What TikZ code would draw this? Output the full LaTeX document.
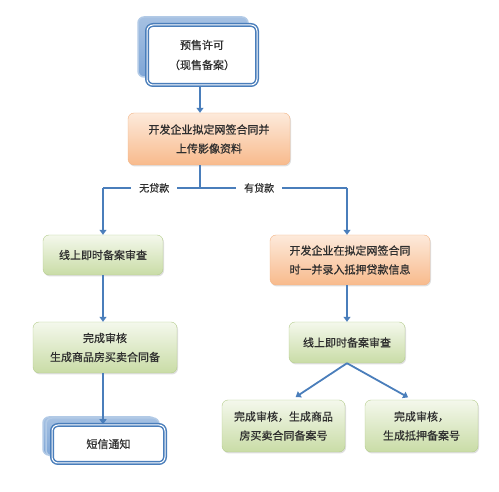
\documentclass[tikz,border=0pt]{standalone}
\usepackage{fontspec}
\newfontfamily\cjk[FakeBold=0.6]{Noto Sans CJK SC}
\usetikzlibrary{arrows.meta,shadows}

\definecolor{lineblue}{HTML}{4A7EBB}
\definecolor{shadeblue}{HTML}{7FA6D6}
\definecolor{greenhi}{HTML}{F4F8EC}
\definecolor{greenlo}{HTML}{C9DCA6}
\definecolor{greenrim}{HTML}{B4CC8C}
\definecolor{orangehi}{HTML}{FDEADB}
\definecolor{orangelo}{HTML}{F8BA8C}
\definecolor{orangerim}{HTML}{F2B486}
\definecolor{textgray}{HTML}{2E2E2E}

\tikzset{
  box/.style={shape=rectangle,rounded corners=6pt,align=center,text=textgray,
    font=\cjk\fontsize{11}{19}\selectfont,inner sep=2pt,
    drop shadow={opacity=0.25,shadow xshift=1pt,shadow yshift=-1.5pt}},
  greenbox/.style={box,draw=greenrim,top color=greenhi,bottom color=greenlo},
  orangebox/.style={box,draw=orangerim,top color=orangehi,bottom color=orangelo},
  framebox/.style={shape=rectangle,rounded corners=6pt,align=center,text=textgray,
    font=\cjk\fontsize{11}{20}\selectfont,draw=lineblue,fill=white,
    line width=1.5pt,double=white,double distance=1pt,
    general shadow={top color=shadeblue!70,bottom color=shadeblue,draw=shadeblue!60,
      rounded corners=6pt,shadow xshift=-9pt,shadow yshift=8pt}},
  flow/.style={draw=lineblue,line width=1.8pt,-{Triangle[length=5pt,width=7pt]}},
  branch/.style={draw=lineblue,line width=1.8pt},
  loanlabel/.style={fill=white,text=textgray,inner xsep=8pt,
    font=\cjk\fontsize{10}{12}\selectfont}
}

\begin{document}
\begin{tikzpicture}[x=1pt,y=-1pt]
\useasboundingbox (0,0) rectangle (499,492);

% top of the chart
\node[framebox,minimum width=110pt,minimum height=60pt] (permit) at (202,55)
  {预售许可\\（现售备案）};
\node[orangebox,minimum width=162pt,minimum height=52pt] (upload) at (209,139)
  {开发企业拟定网签合同并\\上传影像资料};
\coordinate (split) at (200,188);
\coordinate (leftend) at (103,188);
\coordinate (rightend) at (347,188);

% left branch: no loan
\node[greenbox,minimum width=120pt,minimum height=40pt] (checkA) at (103,255)
  {线上即时备案审查};
\node[greenbox,minimum width=144pt,minimum height=51pt] (doneA) at (105,347.5)
  {完成审核\\生成商品房买卖合同备};
\node[framebox,minimum width=113pt,minimum height=38pt,
  general shadow={top color=shadeblue!70,bottom color=shadeblue,draw=shadeblue!60,
    rounded corners=6pt,shadow xshift=-6pt,shadow yshift=7pt}] (sms) at (108.5,444)
  {短信通知};

% right branch: with loan
\node[orangebox,minimum width=160pt,minimum height=50pt] (mortgage) at (350,260)
  {开发企业在拟定网签合同\\时一并录入抵押贷款信息};
\node[greenbox,minimum width=116pt,minimum height=41pt] (checkB) at (347,342.5)
  {线上即时备案审查};
\node[greenbox,minimum width=123pt,minimum height=52pt] (doneB) at (283.5,426)
  {完成审核，生成商品\\房买卖合同备案号};
\node[greenbox,minimum width=113pt,minimum height=52pt] (doneC) at (421.5,426)
  {完成审核，\\生成抵押备案号};

% connectors
\draw[flow] (permit.south -| 200,0) -- (200,0 |- upload.north);
\draw[branch] (200,0 |- upload.south) -- (split);
\draw[branch] (leftend) -- (rightend)
  node[loanlabel,pos=0.21] (noloan) {无贷款}
  node[loanlabel,pos=0.64] (hasloan) {有贷款};
\draw[flow] (leftend) -- (leftend |- checkA.north);
\draw[flow] (rightend) -- (rightend |- mortgage.north);
\draw[flow] (checkA.south -| leftend) -- (leftend |- doneA.north);
\draw[flow] (doneA.south -| leftend) -- (leftend |- sms.north);
\draw[flow] (mortgage.south -| rightend) -- (rightend |- checkB.north);
\draw[flow,shorten >=5pt] (checkB.south) -- ([xshift=8pt]doneB.north);
\draw[flow,shorten >=5pt] (checkB.south) -- ([xshift=-9pt]doneC.north);
\end{tikzpicture}
\end{document}
